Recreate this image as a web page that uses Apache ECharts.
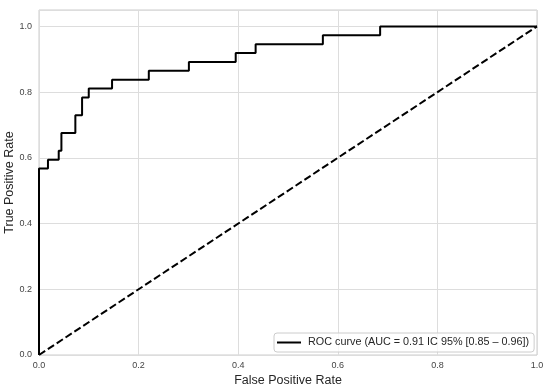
<!DOCTYPE html>
<html>
<head>
<meta charset="utf-8">
<script src="https://cdn.jsdelivr.net/npm/echarts@6/dist/echarts.min.js"></script>
<style>
html,body{margin:0;padding:0;background:#fff;}
#chart{width:550px;height:392px;}
</style>
</head>
<body>
<div id="chart"></div>
<script>
// ROC curve corner points
const rocFpr = [0, 0, 0.018, 0.018, 0.0396, 0.0396, 0.045, 0.045, 0.073, 0.073, 0.0865, 0.0865, 0.0999, 0.0999, 0.1467, 0.1467, 0.2205, 0.2205, 0.301, 0.301, 0.395, 0.395, 0.435, 0.435, 0.570, 0.570, 0.685, 0.685, 1.0];
const rocTpr = [0, 0.5676, 0.5676, 0.5946, 0.5946, 0.6216, 0.6216, 0.6757, 0.6757, 0.7297, 0.7297, 0.7838, 0.7838, 0.8108, 0.8108, 0.8378, 0.8378, 0.8649, 0.8649, 0.8919, 0.8919, 0.9189, 0.9189, 0.9459, 0.9459, 0.9730, 0.9730, 1.0, 1.0];
// chance diagonal
const chanceX = [0, 1];
const chanceY = [0, 1];
const xTicks = [0, 0.2, 0.4, 0.6, 0.8, 1.0];
const yTicks = [0, 0.2, 0.4, 0.6, 0.8, 1.0];
const legendLabel = 'ROC curve (AUC = 0.91 IC 95% [0.85 \u2013 0.96])';

const font = '"Liberation Sans", Arial, sans-serif';
const chart = echarts.init(document.getElementById('chart'), null, {renderer: 'canvas'});
const fmt = v => (xTicks.concat(yTicks).some(t => Math.abs(t - v) < 1e-6) ? v.toFixed(1) : '');

chart.setOption({
  animation: false,
  backgroundColor: '#ffffff',
  grid: {left: 39, right: 13, top: 10, bottom: 37, show: true, borderColor: '#cccccc', borderWidth: 1, containLabel: false, outerBoundsMode: 'none'},
  xAxis: {
    type: 'value', min: 0, max: 1, interval: 0.2,
    name: 'False Positive Rate', nameLocation: 'middle', nameGap: 19, nameMoveOverlap: false,
    nameTextStyle: {fontFamily: font, fontSize: 12.5, color: '#262626'},
    axisLine: {show: false}, axisTick: {show: false},
    axisLabel: {formatter: fmt, fontFamily: font, fontSize: 9, color: '#444', margin: 6},
    splitLine: {show: true, lineStyle: {color: '#dddddd', width: 1}}
  },
  yAxis: {
    type: 'value', min: 0, max: 1.05, interval: 0.2,
    name: 'True Positive Rate', nameLocation: 'middle', nameGap: 23, nameMoveOverlap: false,
    nameTextStyle: {fontFamily: font, fontSize: 12.5, color: '#262626'},
    axisLine: {show: false}, axisTick: {show: false},
    axisLabel: {formatter: fmt, fontFamily: font, fontSize: 9, color: '#444', margin: 7, showMaxLabel: false},
    splitLine: {show: true, lineStyle: {color: '#dddddd', width: 1}}
  },
  legend: {
    data: [{name: legendLabel, icon: 'rect'}],
    left: 274, top: 333,
    itemWidth: 24, itemHeight: 2,
    padding: [4, 5, 4, 3],
    backgroundColor: 'rgba(255,255,255,0.8)',
    borderColor: '#cccccc', borderWidth: 1, borderRadius: 3,
    textStyle: {fontFamily: font, fontSize: 10.8, color: '#262626', padding: [0, 0, 0, 2]}
  },
  series: [
    {
      name: legendLabel, type: 'line', showSymbol: false, symbol: 'none',
      data: rocFpr.map((x, i) => [x, rocTpr[i]]),
      lineStyle: {color: '#000', width: 2}, itemStyle: {color: '#000'},
      clip: true, z: 3
    },
    {
      name: 'chance', type: 'line', showSymbol: false, symbol: 'none',
      data: chanceX.map((x, i) => [x, chanceY[i]]),
      lineStyle: {color: '#000', width: 2, type: [7.4, 3.2]},
      clip: true, z: 2
    }
  ]
});
</script>
</body>
</html>
